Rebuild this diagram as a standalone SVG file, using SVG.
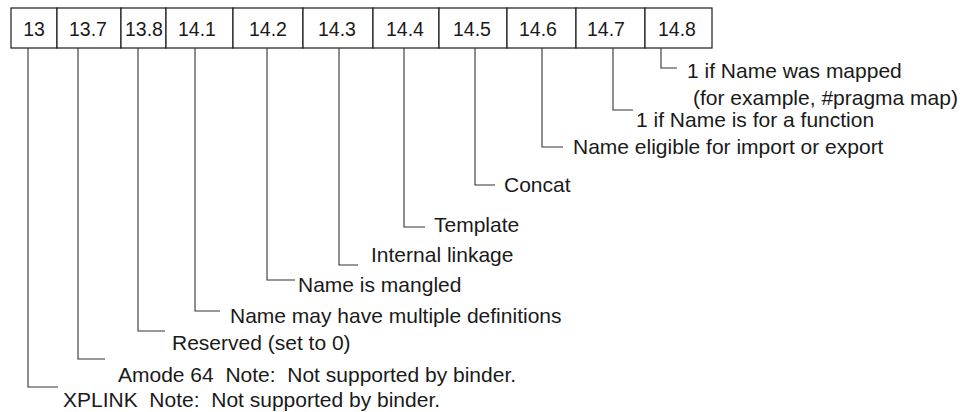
<svg xmlns="http://www.w3.org/2000/svg" width="978" height="412" viewBox="0 0 978 412">
<style>
.bx{fill:#fff;stroke:#1a1a1a;stroke-width:1.2}
.num{font-family:"Liberation Sans",Arial,sans-serif;font-size:19.5px;fill:#1a1a1a;text-anchor:middle}
.lbl{font-family:"Liberation Sans",Arial,sans-serif;font-size:21px;fill:#1a1a1a;white-space:pre}
.cn{fill:none;stroke:#333;stroke-width:1.1}
</style>
<rect width="978" height="412" fill="#fff"/>
<g id="fields">
<g id="f13"><rect class="bx" x="11" y="8" width="46" height="40"/><text class="num" x="34" y="36">13</text></g>
<g id="f13_7"><rect class="bx" x="57" y="8" width="64" height="40"/><text class="num" x="88" y="36">13.7</text></g>
<g id="f13_8"><rect class="bx" x="121" y="8" width="45" height="40"/><text class="num" x="144" y="36">13.8</text></g>
<g id="f14_1"><rect class="bx" x="166" y="8" width="67" height="40"/><text class="num" x="197" y="36">14.1</text></g>
<g id="f14_2"><rect class="bx" x="233" y="8" width="70" height="40"/><text class="num" x="268" y="36">14.2</text></g>
<g id="f14_3"><rect class="bx" x="303" y="8" width="70" height="40"/><text class="num" x="337" y="36">14.3</text></g>
<g id="f14_4"><rect class="bx" x="373" y="8" width="66" height="40"/><text class="num" x="405" y="36">14.4</text></g>
<g id="f14_5"><rect class="bx" x="439" y="8" width="68" height="40"/><text class="num" x="472" y="36">14.5</text></g>
<g id="f14_6"><rect class="bx" x="507" y="8" width="69" height="40"/><text class="num" x="538" y="36">14.6</text></g>
<g id="f14_7"><rect class="bx" x="576" y="8" width="69" height="40"/><text class="num" x="606" y="36">14.7</text></g>
<g id="f14_8"><rect class="bx" x="645" y="8" width="67" height="40"/><text class="num" x="677" y="36">14.8</text></g>
</g>
<g id="connectors">
<polyline class="cn" points="661,48 661,68 677,68"/>
<polyline class="cn" points="613,48 613,110 633,110"/>
<polyline class="cn" points="542,48 542,147 563,147"/>
<polyline class="cn" points="475,48 475,185 495,185"/>
<polyline class="cn" points="404,48 404,227 425,227"/>
<polyline class="cn" points="339,48 339,265 358,265"/>
<polyline class="cn" points="267,48 267,280 295,280"/>
<polyline class="cn" points="195,48 195,311 220,311"/>
<polyline class="cn" points="138,48 138,331 165,331"/>
<polyline class="cn" points="78,48 78,359 105,359"/>
<polyline class="cn" points="28,48 28,387 58,387"/>
</g>
<g id="labels">
<g id="l14_8"><text class="lbl" x="687" y="78">1 if Name was mapped</text><text class="lbl" x="693" y="105">(for example, #pragma map)</text></g>
<g id="l14_7"><text class="lbl" x="636" y="127">1 if Name is for a function</text></g>
<g id="l14_6"><text class="lbl" x="573" y="154">Name eligible for import or export</text></g>
<g id="l14_5"><text class="lbl" x="504" y="192">Concat</text></g>
<g id="l14_4"><text class="lbl" x="434" y="232">Template</text></g>
<g id="l14_3"><text class="lbl" x="371" y="262">Internal linkage</text></g>
<g id="l14_2"><text class="lbl" x="298" y="292">Name is mangled</text></g>
<g id="l14_1"><text class="lbl" x="230" y="323">Name may have multiple definitions</text></g>
<g id="l13_8"><text class="lbl" x="172" y="350">Reserved (set to 0)</text></g>
<g id="l13_7"><text class="lbl" x="118" y="382" xml:space="preserve">Amode 64&#160; Note:&#160; Not supported by binder.</text></g>
<g id="l13"><text class="lbl" x="63" y="407" xml:space="preserve">XPLINK&#160; Note:&#160; Not supported by binder.</text></g>
</g>
</svg>
